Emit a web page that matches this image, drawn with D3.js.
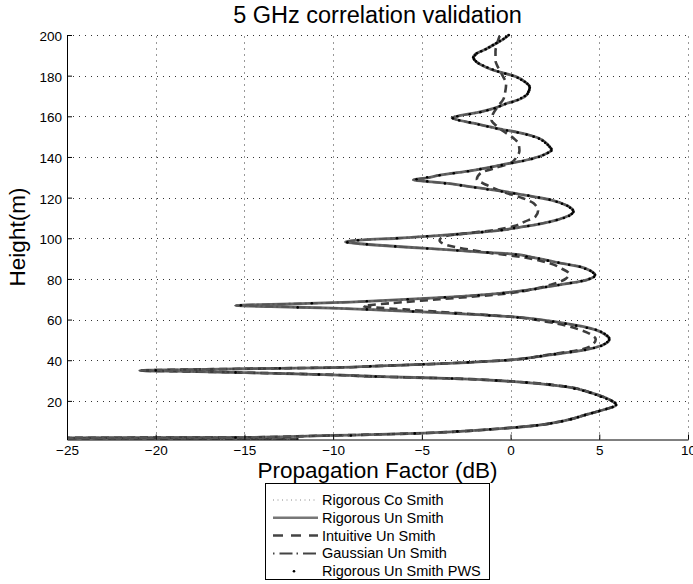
<!DOCTYPE html>
<html lang="en">
<head>
<meta charset="utf-8" />
<script src="https://d3js.org/d3.v7.min.js" charset="utf-8"></script>
<style>
    body { margin: 0; background: #fff; }
    text { font-family: "Liberation Sans", Arial, Helvetica, sans-serif; fill: #000; }
    .tick text { font-size: 13.5px; }
</style>
</head>
<body>
<script>
// axis ticks
var xTicks = [-25, -20, -15, -10, -5, 0, 5, 10];
var yTicks = [20, 40, 60, 80, 100, 120, 140, 160, 180, 200];

var seriesNames = ["Rigorous Co Smith", "Rigorous Un Smith", "Intuitive Un Smith",
    "Gaussian Un Smith", "Rigorous Un Smith PWS"];

// Rigorous Un Smith (height m, factor dB)
var rigHeights = [1.0, 1.4, 1.75, 2.0, 2.3, 2.7, 3.2, 4.0, 4.9, 6.0, 7.0, 8.1, 9.5, 11.0, 13.1, 15.5, 18.0,
    20.5, 23.8, 27.0, 29.5, 31.1, 31.9, 32.8, 33.9, 34.6, 34.9, 35.3, 35.8, 36.4, 37.2, 38.5, 40.1,
    42.6, 45.1, 47.5, 50.3, 52.8, 54.9, 58.2, 61.4, 63.2, 64.7, 65.6, 66.4, 66.9, 67.5, 68.3, 69.3,
    70.8, 73.3, 76.2, 79.5, 81.9, 84.0, 86.0, 88.3, 90.5, 92.3, 93.1, 94.0, 95.1, 96.2, 97.3, 98.2,
    99.2, 100.0, 101.1, 102.1, 103.1, 104.1, 105.4, 106.5, 108.3, 110.5, 113.1, 116.0, 118.8, 120.6,
    122.5, 125.4, 127.2, 128.0, 128.7, 129.6, 131.1, 133.3, 136.1, 138.5, 141.0, 143.5, 146.0, 149.2,
    151.7, 154.1, 156.6, 158.3, 159.3, 160.4, 161.8, 164.0, 166.4, 168.0, 171.0, 174.3, 177.0, 179.5,
    182.8, 186.0, 189.0, 191.0, 192.6, 195.9, 198.0, 200];
var rigUn = [-12, -18, -30, -15.5, -13, -11.5, -8.9, -5.4, -3.0, -1.15, 0.35, 1.6, 2.6, 3.4, 4.2, 5.2, 5.95,
    5.6, 4.6, 3.1, 0.2, -3.6, -7.3, -10, -15, -19, -20.9, -19, -15, -10, -7.3, -3.5, -0.1,
    2.2, 4.2, 5.2, 5.57, 5.3, 4.8, 3.0, 0.0, -3.5, -7.3, -10, -13.5, -15.5, -13.5, -10, -7.3,
    -4.0, -0.2, 2.1, 4.3, 4.76, 4.5, 3.9, 2.5, 1.3, 0.0, -1.5, -3.0, -4.9, -6.8, -8.5, -9.3,
    -8.3, -6.4, -4.5, -2.85, -1.5, -0.4, 0.5, 1.3, 2.3, 3.1, 3.54, 3.2, 2.3, 1.2,
    0.0, -2.3, -3.8, -4.8, -5.48, -4.8, -3.97, -2.2, -0.5, 0.9, 1.85, 2.3, 2.1, 1.6,
    0.6, -0.8, -2.1, -3.0, -3.3, -2.8, -1.9, -0.9, -0.2, 0.4, 0.95, 1.08, 0.8, 0.3,
    -1.0, -1.8, -2.1, -1.9, -1.5, -0.8, -0.4, -0.1];

// Co Smith and Gaussian lie on top of the Rigorous Un Smith curve in the picture
var rigCo = rigUn;
var gaussUn = rigUn;

// Intuitive Un Smith (dashed)
var intHeights = [1.0, 1.4, 1.75, 2.0, 2.3, 2.7, 3.2, 4.0, 4.9, 6.0, 7.0, 8.1, 9.5, 11.0, 13.1, 15.5, 18.0,
    20.5, 23.8, 27.0, 29.5, 31.1, 31.9, 32.8, 33.9, 34.6, 34.9, 35.3, 35.8, 36.4, 37.2, 38.5, 40.1,
    42.6, 45.1, 47.5, 50.3, 52.8, 55.0, 59.0, 61.4, 63.2, 65.0, 66.6, 68.0, 70.0, 73.0, 75.4, 77.5,
    80.0, 82.5, 85.0, 87.7, 90.5, 93.0, 95.5, 97.3, 99.0, 100.8, 102.4, 104.1, 106.0, 108.2, 110.6,
    113.5, 117.2, 120.0, 123.0, 126.2, 129.0, 132.0, 134.5, 137.0, 140.1, 143.0, 146.5, 149.0, 152.0,
    155.0, 158.0, 161.0, 165.0, 168.5, 172.1, 176.0, 180.0, 184.0, 187.5, 192.0, 196.0, 200];
var intUn = [-12, -18, -30, -15.5, -13, -11.5, -8.9, -5.4, -3.0, -1.15, 0.35, 1.6, 2.6, 3.4, 4.2, 5.2, 5.95,
    5.6, 4.6, 3.1, 0.2, -3.6, -7.3, -10, -15, -19, -20.9, -19, -15, -10, -7.3, -3.5, -0.1,
    2.0, 3.9, 4.6, 4.8, 4.5, 3.9, 2.0, 0.0, -3.0, -6.0, -8.3, -6.8, -4.0, 0.0, 1.5, 2.4,
    3.1, 3.3, 2.9, 2.2, 0.8, -1.3, -3.0, -3.8, -4.0, -3.8, -2.5, -0.9, 0.2, 0.8, 1.4,
    1.55, 1.3, 0.6, -0.5, -1.34, -1.9, -1.7, -0.9, 0.0, 0.35, 0.5, 0.45, 0.2, -0.3,
    -0.75, -1.07, -1.0, -0.7, -0.4, -0.3, -0.25, -0.45, -0.7, -0.85, -0.85, -0.75, -0.6];

// Rigorous Un Smith PWS, one dot per metre
var pwsHeights = [1, 2, 3, 4, 5, 6, 7, 8, 9, 10, 11, 12, 13, 14, 15, 16, 17, 18, 19, 20,
    21, 22, 23, 24, 25, 26, 27, 28, 29, 30, 31, 32, 33, 34, 35, 36, 37, 38, 39, 40,
    41, 42, 43, 44, 45, 46, 47, 48, 49, 50, 51, 52, 53, 54, 55, 56, 57, 58, 59, 60,
    61, 62, 63, 64, 65, 66, 67, 68, 69, 70, 71, 72, 73, 74, 75, 76, 77, 78, 79, 80,
    81, 82, 83, 84, 85, 86, 87, 88, 89, 90, 91, 92, 93, 94, 95, 96, 97, 98, 99, 100,
    101, 102, 103, 104, 105, 106, 107, 108, 109, 110, 111, 112, 113, 114, 115, 116, 117, 118, 119, 120,
    121, 122, 123, 124, 125, 126, 127, 128, 129, 130, 131, 132, 133, 134, 135, 136, 137, 138, 139, 140,
    141, 142, 143, 144, 145, 146, 147, 148, 149, 150, 151, 152, 153, 154, 155, 156, 157, 158, 159, 160,
    161, 162, 163, 164, 165, 166, 167, 168, 169, 170, 171, 172, 173, 174, 175, 176, 177, 178, 179, 180,
    181, 182, 183, 184, 185, 186, 187, 188, 189, 190, 191, 192, 193, 194, 195, 196, 197, 198, 199, 200];
var pwsUn = [-12, -15.5, -9.0, -5.4, -3.0, -1.15, 0.35, 1.5, 2.3, 2.9, 3.4, 3.8, 4.2, 4.6, 5.0, 5.4, 5.75, 5.95, 5.9, 5.7,
    5.4, 5.1, 4.8, 4.5, 4.1, 3.6, 3.1, 2.2, 0.9, -0.8, -3.3, -7.6, -10.8, -15.5, -20.0, -13.0, -7.9, -4.9, -2.4, -0.3,
    0.9, 1.7, 2.5, 3.4, 4.2, 4.7, 5.1, 5.3, 5.45, 5.55, 5.55, 5.45, 5.3, 5.1, 4.8, 4.3, 3.7, 3.1, 2.4, 1.4,
    0.4, -1.2, -3.1, -5.5, -8.1, -12.0, -15.2, -11.2, -8.1, -5.8, -3.7, -1.8, -0.4, 0.7, 1.4, 2.0, 2.7, 3.4, 4.0, 4.45,
    4.7, 4.76, 4.65, 4.5, 4.2, 3.9, 3.3, 2.7, 2.1, 1.6, 0.9, 0.3, -1.3, -3.0, -4.7, -6.5, -8.1, -9.2, -8.6, -6.4,
    -4.7, -3.0, -1.6, -0.5, 0.2, 1.0, 1.6, 2.2, 2.6, 3.0, 3.3, 3.45, 3.54, 3.5, 3.35, 3.2, 2.9, 2.6, 2.2, 1.6,
    1.0, 0.2, -0.5, -1.3, -2.0, -2.8, -3.7, -4.7, -5.3, -4.7, -4.0, -3.2, -2.4, -1.7, -1.1, -0.5, 0.1, 0.7, 1.2, 1.6,
    1.85, 2.1, 2.3, 2.3, 2.2, 2.1, 1.95, 1.8, 1.6, 1.3, 0.9, 0.4, -0.2, -0.8, -1.3, -1.8, -2.3, -2.9, -3.25, -3.0,
    -2.3, -1.7, -1.3, -0.9, -0.6, -0.3, 0.1, 0.4, 0.6, 0.8, 0.95, 1.0, 1.05, 1.08, 1.05, 0.95, 0.8, 0.6, 0.4, 0.1,
    -0.3, -0.7, -1.0, -1.3, -1.55, -1.8, -1.95, -2.05, -2.1, -2.0, -1.9, -1.65, -1.4, -1.2, -1.0, -0.8, -0.6, -0.4, -0.25, -0.1];

var width = 693,
    height = 584;

var svg = d3.select("body").append("svg")
    .attr("width", width)
    .attr("height", height);

var x = d3.scaleLinear().domain([-25, 10]).range([67, 688]);
var y = d3.scaleLinear().domain([1, 200]).range([439.5, 35]);

// grid
var grid = svg.append("g")
    .attr("stroke", "#333")
    .attr("stroke-width", 1)
    .attr("stroke-dasharray", "1,5");

grid.selectAll(".gx").data(xTicks.slice(1)).enter().append("line")
    .attr("x1", function (d) { return Math.round(x(d)) + 0.5; })
    .attr("x2", function (d) { return Math.round(x(d)) + 0.5; })
    .attr("y1", y(1)).attr("y2", y(200));

grid.selectAll(".gy").data(yTicks).enter().append("line")
    .attr("y1", function (d) { return Math.round(y(d)) + 0.5; })
    .attr("y2", function (d) { return Math.round(y(d)) + 0.5; })
    .attr("x1", x(-25)).attr("x2", x(10));

// curves
svg.append("clipPath").attr("id", "plot")
    .append("rect")
    .attr("x", x(-25)).attr("y", 30)
    .attr("width", x(10) - x(-25)).attr("height", y(1) - 30);

var line = d3.line()
    .x(function (d) { return x(d[1]); })
    .y(function (d) { return y(d[0]); })
    .curve(d3.curveMonotoneY);

var plot = svg.append("g").attr("clip-path", "url(#plot)");

plot.append("path")
    .attr("d", line(d3.zip(rigHeights, rigCo)))
    .attr("fill", "none").attr("stroke", "#000")
    .attr("stroke-width", 1).attr("stroke-dasharray", "1,2");

plot.append("path")
    .attr("d", line(d3.zip(rigHeights, rigUn)))
    .attr("fill", "none").attr("stroke", "#666")
    .attr("stroke-width", 2.8);

plot.append("path")
    .attr("d", line(d3.zip(intHeights, intUn)))
    .attr("fill", "none").attr("stroke", "#3d3d3d")
    .attr("stroke-width", 2.6).attr("stroke-dasharray", "8,5");

plot.append("path")
    .attr("d", line(d3.zip(rigHeights, gaussUn)))
    .attr("fill", "none").attr("stroke", "#555")
    .attr("stroke-width", 2).attr("stroke-dasharray", "8,3,2,3");

plot.selectAll(".pws").data(d3.zip(pwsHeights, pwsUn)).enter().append("circle")
    .attr("cx", function (d) { return x(d[1]); })
    .attr("cy", function (d) { return y(d[0]); })
    .attr("r", 1.3)
    .attr("fill", "#000");

// axes, ticks pointing inward like matlab
svg.append("g")
    .attr("transform", "translate(" + x(-25) + ",0)")
    .call(d3.axisLeft(y).tickValues(yTicks).tickSizeInner(-5).tickSizeOuter(0).tickPadding(5))
    .call(function (g) { g.selectAll("text").attr("dy", "0.4em"); });

svg.append("g")
    .attr("transform", "translate(0," + y(1) + ")")
    .call(d3.axisBottom(x).tickValues(xTicks).tickSizeInner(-5).tickSizeOuter(0).tickPadding(6));

svg.selectAll(".domain").attr("stroke", "#000");
svg.selectAll(".tick line").attr("stroke", "#000");
svg.selectAll(".tick text").attr("font-family", null);

// titles
svg.append("text")
    .attr("x", 377.5).attr("y", 23)
    .attr("text-anchor", "middle")
    .style("font-size", "23.5px")
    .text("5 GHz correlation validation");

svg.append("text")
    .attr("x", 377.5).attr("y", 478)
    .attr("text-anchor", "middle")
    .style("font-size", "22.5px")
    .text("Propagation Factor (dB)");

svg.append("text")
    .attr("transform", "translate(25,237) rotate(-90)")
    .attr("text-anchor", "middle")
    .style("font-size", "22.5px")
    .text("Height(m)");

// legend
var legend = svg.append("g");
legend.append("rect")
    .attr("x", 265.5).attr("y", 483.5)
    .attr("width", 224).attr("height", 96)
    .attr("fill", "#fff").attr("stroke", "#000");

var rowY = [500, 517.8, 535.6, 553.4, 571.2];
var sampleStyle = [
    { stroke: "#888", w: 1, dash: "1,3.5" },
    { stroke: "#777", w: 2.5, dash: null },
    { stroke: "#444", w: 2.5, dash: "10,8" },
    { stroke: "#444", w: 2, dash: "1.5,5,13,4" },
    null
];

seriesNames.forEach(function (name, i) {
    var s = sampleStyle[i];
    if (s) {
        legend.append("line")
            .attr("x1", 273).attr("x2", 318)
            .attr("y1", rowY[i]).attr("y2", rowY[i])
            .attr("stroke", s.stroke).attr("stroke-width", s.w)
            .attr("stroke-dasharray", s.dash);
    } else {
        legend.append("circle")
            .attr("cx", 294).attr("cy", rowY[i]).attr("r", 1.3).attr("fill", "#000");
    }
    legend.append("text")
        .attr("x", 322).attr("y", rowY[i])
        .attr("dy", "0.35em")
        .style("font-size", "14.5px")
        .text(name);
});
</script>
</body>
</html>
